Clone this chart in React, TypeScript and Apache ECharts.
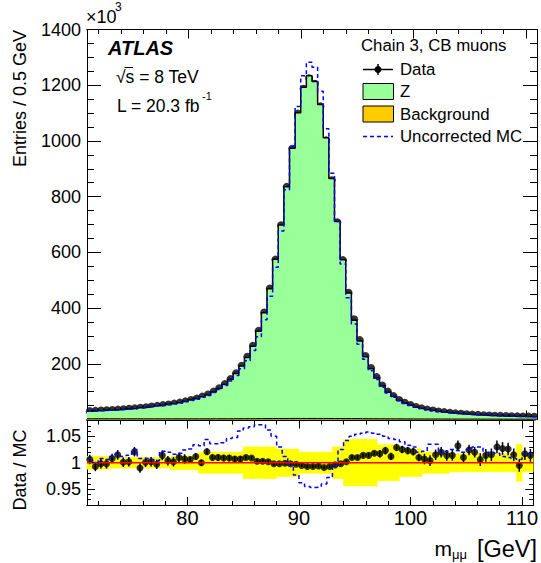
import React, { useEffect, useRef } from "react";
import * as echarts from "echarts";

const X_MIN = 71;
const X_MAX = 111;
const BIN_WIDTH = 0.5;

// Entries per 0.5 GeV (x10^3), bins 71.0-71.5 ... 110.5-111.0
const dataCounts = [
  30, 31, 32, 33, 34, 35.5, 37, 38.5, 40, 42,
  44, 46.5, 49, 51.5, 54, 57, 60.5, 65, 70, 75,
  82, 90, 100, 112, 127, 145, 166, 193, 225, 265,
  318, 384, 470, 574, 697, 835, 972, 1098, 1187, 1225,
  1205, 1124, 1002, 859, 708, 572, 455, 360, 285, 228,
  185, 152, 122, 100, 84, 70, 60, 52, 45, 40,
  35.5, 32, 29, 26.5, 24, 22, 20.5, 19, 17.5, 16.5,
  15.5, 14.5, 13.5, 13, 12.3, 11.7, 11.2, 10.7, 10.3, 10,
];

// Data / MC (corrected Z + background)
const dataOverMC = [
  1.006, 0.993, 0.998, 0.998, 1.008, 1.015, 1.001, 1.002, 1.021, 0.99,
  1.001, 1.002, 0.997, 1.014, 1.004, 1.002, 1.01, 1.007, 1.006, 1.012,
  1.0, 1.021, 1.01, 1.01, 1.009, 1.009, 1.007, 1.007, 1.01, 1.009,
  1.003, 1.003, 1.002, 0.998, 0.998, 0.999, 0.998, 0.997, 0.995, 0.993,
  0.993, 0.994, 0.991, 0.993, 0.996, 0.998, 1.002, 1.01, 1.01, 1.014,
  1.014, 1.018, 1.017, 1.023, 1.012, 1.029, 1.025, 1.023, 1.021, 1.01,
  1.007, 1.004, 1.015, 1.02, 1.014, 1.014, 1.032, 1.01, 1.024, 1.02,
  1.006, 1.014, 1.015, 1.03, 1.027, 1.026, 1.015, 0.995, 1.017, 1.014,
];

// Data / Uncorrected MC
const dataOverUncorrMC = [
  1.008, 1.0, 1.008, 1.006, 1.012, 1.016, 1.012, 1.014, 1.025, 1.008,
  1.008, 1.006, 1.004, 1.022, 1.02, 1.016, 1.018, 1.024, 1.026, 1.034,
  1.032, 1.044, 1.036, 1.036, 1.038, 1.046, 1.048, 1.06, 1.066, 1.068,
  1.072, 1.072, 1.062, 1.05, 1.03, 1.012, 0.995, 0.977, 0.962, 0.955,
  0.953, 0.954, 0.96, 0.972, 0.995, 1.025, 1.042, 1.05, 1.054, 1.056,
  1.058, 1.056, 1.054, 1.05, 1.046, 1.044, 1.04, 1.033, 1.03, 1.02,
  1.022, 1.035, 1.035, 1.018, 1.022, 1.025, 1.023, 1.02, 1.025, 1.03,
  1.03, 1.02, 1.02, 1.018, 1.012, 1.01, 1.008, 1.006, 1.017, 1.017,
];

// Background (x10^3)
const background = [
  2.8, 2.8, 2.7, 2.7, 2.7, 2.6, 2.6, 2.6, 2.6, 2.5,
  2.5, 2.5, 2.5, 2.5, 2.5, 2.5, 2.5, 2.5, 2.5, 2.5,
  2.6, 2.6, 2.7, 2.7, 2.8, 2.8, 2.9, 3.0, 3.0, 3.1,
  3.2, 3.3, 3.4, 3.5, 3.6, 3.7, 3.8, 3.8, 3.8, 3.8,
  3.8, 3.7, 3.6, 3.5, 3.4, 3.3, 3.2, 3.1, 3.0, 2.9,
  2.8, 2.7, 2.6, 2.5, 2.4, 2.3, 2.2, 2.1, 2.0, 2.0,
  1.9, 1.9, 1.8, 1.8, 1.7, 1.7, 1.6, 1.6, 1.6, 1.5,
  1.5, 1.5, 1.5, 1.4, 1.4, 1.4, 1.4, 1.4, 1.3, 1.3,
];

// Statistical error on Data / MC
const ratioErr = [
  0.009, 0.009, 0.009, 0.009, 0.009, 0.009, 0.009, 0.009, 0.009, 0.009,
  0.009, 0.009, 0.009, 0.009, 0.009, 0.009, 0.009, 0.009, 0.006, 0.006,
  0.006, 0.006, 0.006, 0.006, 0.006, 0.006, 0.006, 0.006, 0.004, 0.004,
  0.004, 0.004, 0.004, 0.004, 0.003, 0.003, 0.003, 0.003, 0.003, 0.003,
  0.003, 0.003, 0.003, 0.003, 0.003, 0.003, 0.004, 0.004, 0.004, 0.004,
  0.004, 0.004, 0.007, 0.007, 0.007, 0.007, 0.007, 0.007, 0.007, 0.007,
  0.01, 0.01, 0.01, 0.01, 0.01, 0.01, 0.01, 0.01, 0.01, 0.01,
  0.012, 0.012, 0.012, 0.012, 0.012, 0.012, 0.012, 0.012, 0.012, 0.012,
];

// Systematic band half-width around 1
const systBand = [
  0.012, 0.012, 0.012, 0.012, 0.01, 0.01, 0.01, 0.01, 0.01, 0.01,
  0.01, 0.01, 0.01, 0.01, 0.01, 0.013, 0.013, 0.013, 0.013, 0.013,
  0.02, 0.02, 0.02, 0.02, 0.02, 0.02, 0.02, 0.02, 0.03, 0.03,
  0.03, 0.03, 0.03, 0.03, 0.026, 0.026, 0.026, 0.026, 0.02, 0.02,
  0.02, 0.02, 0.02, 0.02, 0.03, 0.03, 0.044, 0.044, 0.044, 0.044,
  0.044, 0.044, 0.034, 0.034, 0.034, 0.034, 0.026, 0.026, 0.026, 0.026,
  0.02, 0.02, 0.02, 0.02, 0.02, 0.017, 0.017, 0.017, 0.017, 0.017,
  0.017, 0.017, 0.017, 0.017, 0.017, 0.017, 0.017, 0.035, 0.017, 0.017,
];

const xMajorTicks = [80, 90, 100, 110];
const xMinorTicks = [72, 74, 76, 78, 80, 82, 84, 86, 88, 90, 92, 94, 96, 98, 100, 102, 104, 106, 108, 110];
const ratioMajorTicks = [0.95, 1, 1.05];
const ratioMinorTicks = [0.93, 0.94, 0.95, 0.96, 0.97, 0.98, 0.99, 1, 1.01, 1.02, 1.03, 1.04, 1.05, 1.06, 1.07];

const FONT = '"Liberation Sans", Arial, Helvetica, sans-serif';
const GREEN = "#99ff99";
const ORANGE = "#ffcc00";

export default function App() {
  const ref = useRef<HTMLDivElement>(null);

  useEffect(() => {
    if (!ref.current) return;
    const chart = echarts.init(ref.current, undefined, { renderer: "svg" });

    const nBins = dataCounts.length;
    const edges = Array.from({ length: nBins + 1 }, (_, i) => X_MIN + i * BIN_WIDTH);
    const centers = Array.from({ length: nBins }, (_, i) => X_MIN + (i + 0.5) * BIN_WIDTH);
    const totalMC = dataCounts.map((d, i) => d / dataOverMC[i]);
    const uncorrMC = dataCounts.map((d, i) => d / dataOverUncorrMC[i]);
    const stepData = (vals: number[]) => edges.map((e, i) => [e, vals[Math.min(i, vals.length - 1)]]);

    const axisLineStyle = { show: true, onZero: false, lineStyle: { color: "#000", width: 1 } };

    const xAx = (gridIndex: number, position: string, ticks: number[], len: number, labels: boolean) => ({
      type: "value",
      gridIndex,
      position,
      min: X_MIN,
      max: X_MAX,
      axisLine: axisLineStyle,
      splitLine: { show: false },
      axisTick: { show: true, inside: true, length: len, customValues: ticks, lineStyle: { color: "#000", width: 1 } },
      axisLabel: labels
        ? { show: true, customValues: xMajorTicks, fontSize: 20, fontFamily: FONT, color: "#000", margin: 3 }
        : { show: false },
    });

    const yRatio = (position: string, ticks: number[], len: number, labels: boolean) => ({
      type: "value",
      gridIndex: 1,
      position,
      min: 0.92,
      max: 1.08,
      axisLine: axisLineStyle,
      splitLine: { show: false },
      axisTick: { show: true, inside: true, length: len, customValues: ticks, lineStyle: { color: "#000", width: 1 } },
      axisLabel: labels
        ? {
            show: true,
            customValues: ratioMajorTicks,
            fontSize: 18,
            fontFamily: FONT,
            color: "#000",
            margin: 6,
            formatter: (v: number) => String(Math.round(v * 100) / 100),
          }
        : { show: false },
    });

    const yMain = (position: string, labels: boolean) => ({
      type: "value",
      gridIndex: 0,
      position,
      min: 0,
      max: 1400,
      interval: 200,
      axisLine: axisLineStyle,
      splitLine: { show: false },
      axisTick: { show: true, inside: true, length: 14, lineStyle: { color: "#000", width: 1 } },
      minorTick: { show: true, splitNumber: 4, length: 7, lineStyle: { color: "#000", width: 1 } },
      axisLabel: labels
        ? {
            show: true,
            fontSize: 18,
            fontFamily: FONT,
            color: "#000",
            margin: 6,
            formatter: (v: number) => (v === 0 ? "" : String(v)),
          }
        : { show: false },
    });

    const txt = (x: number, y: number, text: string, font: string, align = "left", extra: any = {}) => ({
      type: "text",
      x,
      y,
      ...extra,
      style: { text, font: `${font} ${FONT}`, fill: "#000", textAlign: align, textVerticalAlign: "middle" },
    });

    const option: any = {
      animation: false,
      backgroundColor: "#fff",
      grid: [
        { left: 87, top: 29.5, width: 450, height: 390 },
        { left: 87, top: 420.5, width: 450, height: 84.5 },
      ],
      xAxis: [
        xAx(0, "bottom", xMajorTicks, 9, false),
        xAx(0, "bottom", xMinorTicks, 4.5, false),
        xAx(0, "top", xMajorTicks, 9, false),
        xAx(0, "top", xMinorTicks, 4.5, false),
        xAx(1, "bottom", xMajorTicks, 8, true),
        xAx(1, "bottom", xMinorTicks, 4, false),
        xAx(1, "top", xMajorTicks, 8, false),
        xAx(1, "top", xMinorTicks, 4, false),
      ],
      yAxis: [
        yMain("left", true),
        yMain("right", false),
        yRatio("left", ratioMajorTicks, 8, true),
        yRatio("left", ratioMinorTicks, 4, false),
        yRatio("right", ratioMajorTicks, 8, false),
        yRatio("right", ratioMinorTicks, 4, false),
      ],
      series: [
        {
          name: "Z",
          type: "line",
          xAxisIndex: 0,
          yAxisIndex: 0,
          step: "end",
          data: stepData(totalMC),
          symbol: "none",
          lineStyle: { color: "#000", width: 1.5 },
          areaStyle: { color: GREEN, opacity: 1 },
        },
        {
          name: "Background",
          type: "line",
          xAxisIndex: 0,
          yAxisIndex: 0,
          step: "end",
          data: stepData(background),
          symbol: "none",
          lineStyle: { color: "#000", width: 1 },
          areaStyle: { color: ORANGE, opacity: 1 },
        },
        {
          name: "Uncorrected MC",
          type: "line",
          xAxisIndex: 0,
          yAxisIndex: 0,
          step: "end",
          data: stepData(uncorrMC),
          symbol: "none",
          lineStyle: { color: "#0000ff", width: 1.5, type: [4, 3] },
        },
        {
          name: "Data",
          type: "scatter",
          xAxisIndex: 0,
          yAxisIndex: 0,
          data: centers.map((c, i) => [c, dataCounts[i]]),
          symbol: "circle",
          symbolSize: 8,
          itemStyle: { color: "#000" },
        },
        // ratio panel
        {
          name: "band",
          type: "custom",
          xAxisIndex: 4,
          yAxisIndex: 2,
          data: centers.map((c, i) => [c - BIN_WIDTH / 2, c + BIN_WIDTH / 2, 1 - systBand[i], 1 + systBand[i]]),
          encode: { x: [0, 1], y: [2, 3] },
          renderItem: (params: any, api: any) => {
            const p1 = api.coord([api.value(0), api.value(3)]);
            const p2 = api.coord([api.value(1), api.value(2)]);
            return {
              type: "rect",
              shape: { x: p1[0], y: p1[1], width: p2[0] - p1[0], height: p2[1] - p1[1] },
              style: { fill: "#ffff00", stroke: "#ffff00", lineWidth: 0.6 },
            };
          },
        },
        {
          name: "unity",
          type: "line",
          xAxisIndex: 4,
          yAxisIndex: 2,
          data: [[X_MIN, 1], [X_MAX, 1]],
          symbol: "none",
          lineStyle: { color: "#ff0000", width: 1.5 },
        },
        {
          name: "ratioUncorr",
          type: "line",
          xAxisIndex: 4,
          yAxisIndex: 2,
          step: "end",
          data: stepData(dataOverUncorrMC),
          symbol: "none",
          lineStyle: { color: "#0000ff", width: 1.5, type: [4, 3] },
        },
        {
          name: "ratioErr",
          type: "custom",
          xAxisIndex: 4,
          yAxisIndex: 2,
          data: centers.map((c, i) => [c, dataOverMC[i] - ratioErr[i], dataOverMC[i] + ratioErr[i]]),
          encode: { x: 0, y: [1, 2] },
          renderItem: (params: any, api: any) => {
            const a = api.coord([api.value(0), api.value(1)]);
            const b = api.coord([api.value(0), api.value(2)]);
            return {
              type: "line",
              shape: { x1: a[0], y1: a[1], x2: b[0], y2: b[1] },
              style: { stroke: "#000", lineWidth: 1.5 },
            };
          },
        },
        {
          name: "ratio",
          type: "scatter",
          xAxisIndex: 4,
          yAxisIndex: 2,
          data: centers.map((c, i) => [c, dataOverMC[i]]),
          symbol: "circle",
          symbolSize: 7,
          itemStyle: { color: "#000" },
        },
      ],
      graphic: [
        txt(86, 17, "×10", "18px"),
        txt(115, 7, "3", "12px"),
        txt(108, 48, "ATLAS", "italic bold 20px"),
        txt(116, 77, "√s = 8 TeV", "17.5px"),
        { type: "line", shape: { x1: 124.5, y1: 67.5, x2: 133, y2: 67.5 }, style: { stroke: "#000", lineWidth: 1 } },
        txt(117, 106, "L = 20.3 fb", "17.5px"),
        txt(202, 96, "-1", "11px"),
        // legend
        txt(361, 45, "Chain 3, CB muons", "16.8px"),
        { type: "line", shape: { x1: 363, y1: 69.5, x2: 393, y2: 69.5 }, style: { stroke: "#000", lineWidth: 1.5 } },
        { type: "line", shape: { x1: 378, y1: 64, x2: 378, y2: 75 }, style: { stroke: "#000", lineWidth: 1.5 } },
        { type: "circle", shape: { cx: 378, cy: 69.5, r: 3.5 }, style: { fill: "#000" } },
        txt(400, 69.5, "Data", "16.8px"),
        { type: "rect", shape: { x: 363, y: 83.5, width: 30.5, height: 16 }, style: { fill: GREEN, stroke: "#000", lineWidth: 1 } },
        txt(400, 91.5, "Z", "16.8px"),
        { type: "rect", shape: { x: 363, y: 106, width: 30.5, height: 16 }, style: { fill: ORANGE, stroke: "#000", lineWidth: 1 } },
        txt(400, 114, "Background", "16.8px"),
        { type: "line", shape: { x1: 363, y1: 136.5, x2: 393, y2: 136.5 }, style: { stroke: "#0000ff", lineWidth: 1.5, lineDash: [4, 3] } },
        txt(400, 136.5, "Uncorrected MC", "16.8px"),
        // axis titles
        txt(20, 30, "Entries / 0.5 GeV", "18px", "right", { rotation: Math.PI / 2 }),
        txt(20, 470, "Data / MC", "18px", "center", { rotation: Math.PI / 2 }),
        txt(537, 548.5, "[GeV]", "23.5px", "right"),
        txt(452, 554, "μμ", "13px"),
        txt(452, 548.5, "m", "21px", "right"),
      ],
    };

    chart.setOption(option);
    return () => chart.dispose();
  }, []);

  return <div ref={ref} style={{ position: "absolute", left: 0, top: 0, width: 541, height: 563 }} />;
}
